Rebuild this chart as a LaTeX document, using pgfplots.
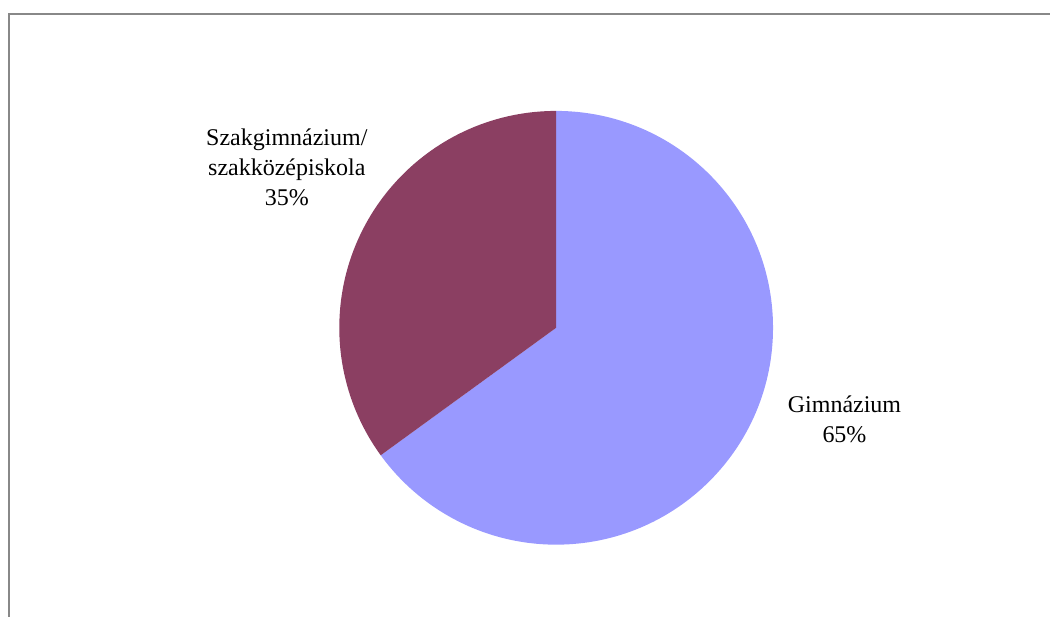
\documentclass[border=0pt]{standalone}
\usepackage{pgfplots}
\pgfplotsset{compat=1.18}
\usepackage{pgfplotstable}
\usepackage{fontspec}
\setmainfont{Liberation Serif}
\definecolor{gimn}{HTML}{9999FF}
\definecolor{szak}{HTML}{8B3F62}
\definecolor{frame}{HTML}{888888}
\pgfplotstableread{
label value
Gimnazium 65
Szak 35
}\piedata
\begin{document}
\begin{tikzpicture}
\pgfplotstablegetelem{0}{value}\of\piedata \let\va\pgfplotsretval
\pgfplotstablegetelem{1}{value}\of\piedata \let\vb\pgfplotsretval
\pgfmathsetmacro{\aend}{90-\va*3.6}
\begin{axis}[
  width=1051pt, height=617pt, scale only axis,
  xmin=0, xmax=1051, ymin=0, ymax=617,
  hide axis, clip=false,
]
\path (axis cs:0,0) rectangle (axis cs:1051,617);
% frame
\addplot[frame, line width=1.3pt] coordinates {(9,0) (9,603) (1051,603)};
% wedges
\fill[gimn] (axis cs:556.5,289) -- ++(90:217pt) arc[start angle=90, end angle=\aend, radius=217pt] -- cycle;
\fill[szak] (axis cs:556.5,289) -- ++(90:217pt) arc[start angle=90, end angle=\aend+360, radius=217pt] -- cycle;
\node[align=center, font=\fontsize{24}{30}\selectfont] at (axis cs:845,197) {Gimnázium\\\va\%};
\node[align=center, font=\fontsize{24}{30}\selectfont] at (axis cs:287,450) {Szakgimnázium/\\szakközépiskola\\\vb\%};
\end{axis}
\end{tikzpicture}
\end{document}
